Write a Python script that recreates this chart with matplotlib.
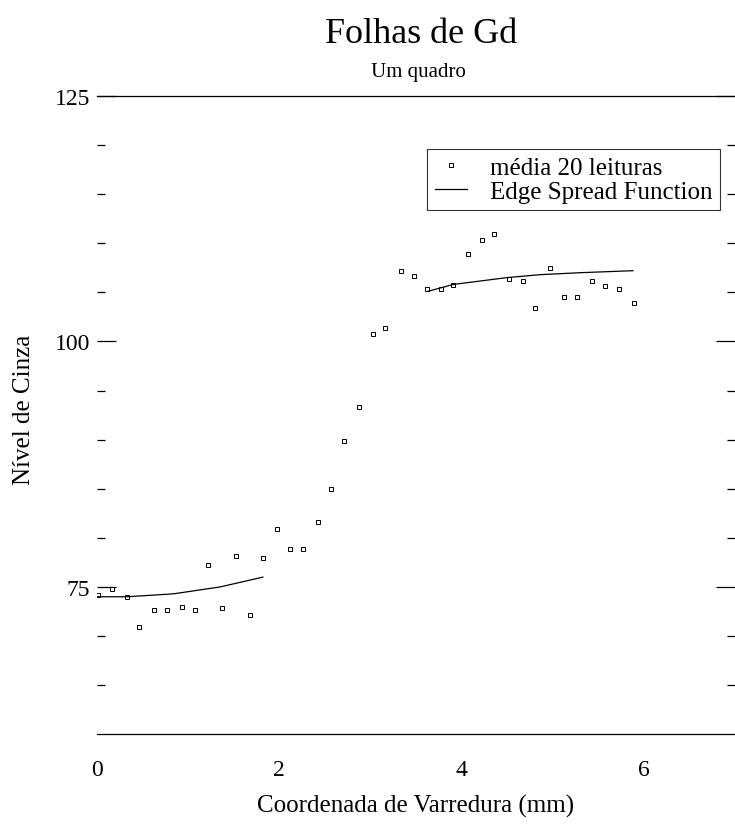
import numpy as np
import matplotlib
matplotlib.use("Agg")
import matplotlib.pyplot as plt

# ================================
# Data
# ================================
# measured points (media 20 leituras)
x_pts = [0.01, 0.16, 0.33, 0.46, 0.63, 0.77, 0.93, 1.08, 1.22, 1.37, 1.52,
         1.68, 1.82, 1.98, 2.12, 2.26, 2.42, 2.57, 2.71, 2.87, 3.03, 3.16,
         3.33, 3.48, 3.62, 3.77, 3.91, 4.07, 4.22, 4.36, 4.52, 4.67, 4.81,
         4.97, 5.12, 5.27, 5.43, 5.57, 5.73, 5.89]
y_pts = [74.2, 74.8, 74.0, 70.9, 72.7, 72.7, 73.0, 72.7, 77.2, 72.9, 78.2,
         72.1, 77.9, 80.9, 78.9, 78.9, 81.6, 85.0, 89.9, 93.3, 100.8, 101.4,
         107.2, 106.7, 105.3, 105.3, 105.7, 108.9, 110.3, 110.9, 106.4, 106.2, 103.4,
         107.5, 104.5, 104.5, 106.1, 105.6, 105.3, 103.9]

# edge spread function, low and high plateau pieces
esf_x_low = [0.0, 0.33, 0.84, 1.35, 1.82]
esf_y_low = [74.0, 74.0, 74.3, 75.0, 76.0]
esf_x_high = [3.63, 3.91, 4.50, 4.87, 5.31, 5.88]
esf_y_high = [105.1, 105.8, 106.5, 106.8, 107.0, 107.2]

x_ticks = [0, 2, 4, 6]
y_major = [75, 100, 125]
y_minor = [65, 70, 80, 85, 90, 95, 105, 110, 115, 120]

# ================================
# Plot
# ================================
plt.rcParams["font.family"] = ["Liberation Serif", "DejaVu Serif"]

fig = plt.figure(figsize=(7.35, 8.28), dpi=100)
ax = fig.add_axes([0.132, 0.112, 0.868, 0.771])

ax.plot(x_pts, y_pts, linestyle="none", marker="s", markersize=3,
        markerfacecolor="white", markeredgecolor="black", markeredgewidth=0.7,
        label="média 20 leituras")
ax.plot(esf_x_low, esf_y_low, color="black", linewidth=0.9,
        label="Edge Spread Function")
ax.plot(esf_x_high, esf_y_high, color="black", linewidth=0.9)

ax.set_xlim(0, 7)
ax.set_ylim(60, 125)

for side in ["left", "right"]:
    ax.spines[side].set_visible(False)
ax.spines["top"].set_linewidth(0.9)
ax.spines["bottom"].set_linewidth(0.9)

ax.set_xticks(x_ticks)
ax.set_xticklabels([str(t) for t in x_ticks])
ax.tick_params(axis="x", length=0, pad=18, labelsize=17)

ax.set_yticks(y_major)
ax.set_yticks(y_minor, minor=True)
ax.tick_params(axis="y", which="major", direction="in", length=14, width=0.9,
               left=True, right=True, labelsize=17, pad=5)
ax.tick_params(axis="y", which="minor", direction="in", length=6, width=0.9,
               left=True, right=True)

ax.set_xlabel("Coordenada de Varredura (mm)", fontsize=18)
ax.xaxis.set_label_coords(0.5, -0.112)
ax.set_ylabel("Nível de Cinza", fontsize=18)
ax.yaxis.set_label_coords(-0.115, 0.509)
ax.xaxis.label.set_va("center")
ax.yaxis.label.set_va("center")

leg = ax.legend(loc="upper right", bbox_to_anchor=(0.976, 0.917), numpoints=1,
                fontsize=18, frameon=True, fancybox=False, handlelength=1.3,
                borderpad=0.3, labelspacing=0.05, handletextpad=0.9,
                borderaxespad=0)
leg.get_frame().set_edgecolor("black")
leg.get_frame().set_linewidth(0.8)

fig.text(0.573, 0.948, "Folhas de Gd", ha="center", va="baseline", fontsize=26)
fig.text(0.569, 0.907, "Um quadro", ha="center", va="baseline", fontsize=15)

fig.savefig("out.png", dpi=100)
